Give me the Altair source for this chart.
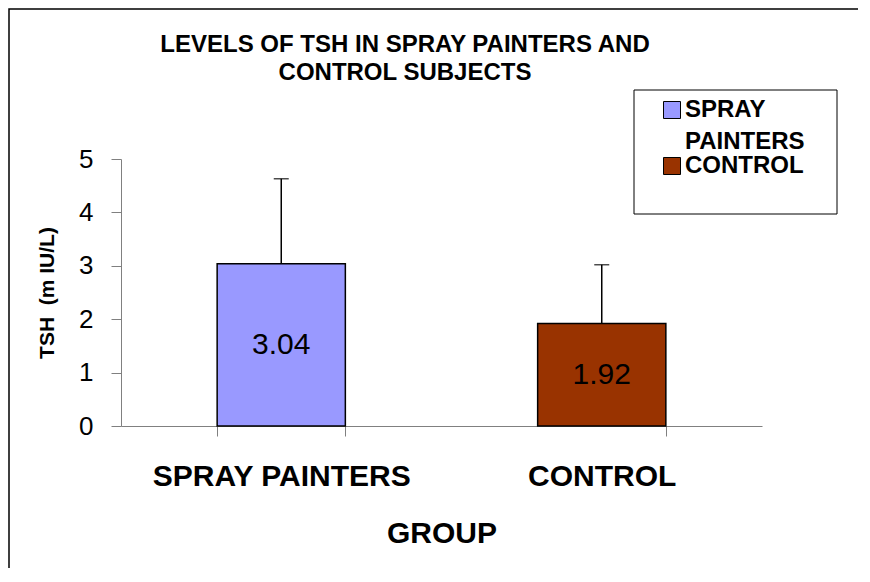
import altair as alt
import pandas as pd

groups = ["SPRAY PAINTERS", "CONTROL"]
means = [3.04, 1.92]
sds = [1.59, 1.10]
colors = ["#9999FF", "#993300"]
mean_labels = ["3.04", "1.92"]

title_lines = ["LEVELS OF TSH IN SPRAY PAINTERS AND", "CONTROL SUBJECTS"]
y_title = "TSH\u00a0 (m IU/L)"
x_title = "GROUP"
legend_lines = [["SPRAY", "PAINTERS"], ["CONTROL"]]

FONT = "Liberation Sans"

df = pd.DataFrame({"group": groups, "mean": means, "sd": sds, "label": mean_labels})
df["upper"] = df["mean"] + df["sd"]
df["mid"] = df["mean"] / 2

W, H = 641, 267

xenc = alt.X("group:N", sort=groups, title=x_title,
             scale=alt.Scale(paddingInner=0.6, paddingOuter=0.3),
             axis=alt.Axis(labelAngle=0, labelFont=FONT, labelFontSize=30, labelFontWeight="bold",
                           labelColor="black", labelPadding=25, labelLimit=600, tickBand="extent",
                           tickSize=10, tickColor="#808080", domainColor="#808080",
                           titleFont=FONT, titleFontSize=30, titleFontWeight="bold",
                           titleColor="black", titlePadding=27))

base = alt.Chart(df)

bars = base.mark_bar(stroke="black", strokeWidth=1.5).encode(
    x=xenc,
    y=alt.Y("mean:Q", scale=alt.Scale(domain=[0, 5], nice=False),
            axis=alt.Axis(values=[0, 1, 2, 3, 4, 5], grid=False, labelFont=FONT, labelFontSize=26,
                          labelColor="black", labelPadding=18, tickSize=10, tickColor="#808080",
                          domainColor="#808080", title=y_title, titleFont=FONT, titleFontSize=21,
                          titleFontWeight="bold", titleColor="black", titleX=-74, titleY=H / 2,
                          titleAlign="center", titleBaseline="middle")),
    color=alt.Color("group:N", scale=alt.Scale(domain=groups, range=colors), legend=None),
)

err = base.mark_rule(color="black", strokeWidth=1.5).encode(
    x=alt.X("group:N", sort=groups), y="mean:Q", y2="upper:Q")
caps = base.mark_tick(color="black", size=15, thickness=1.5).encode(
    x=alt.X("group:N", sort=groups), y="upper:Q")
labels = base.mark_text(font=FONT, fontSize=30, color="black", baseline="middle").encode(
    x=alt.X("group:N", sort=groups), y="mid:Q", text="label:N")

one = pd.DataFrame({"a": [0]})

# decorative frame around the whole chart
frame = alt.Chart(one).mark_rect(fill=None, stroke="black", strokeWidth=1.5).encode(
    x=alt.value(-112), x2=alt.value(760), y=alt.value(-150), y2=alt.value(450))

# chart title (two lines)
title_df = pd.DataFrame({"line": title_lines, "ty": [-107, -79]})
title_layers = [
    alt.Chart(title_df.iloc[[i]]).mark_text(font=FONT, fontSize=24, fontWeight="bold",
                                             align="center", baseline="alphabetic",
                                             color="black").encode(
        x=alt.value(284), y=alt.value(float(title_df["ty"][i])), text="line")
    for i in range(len(title_lines))
]

# legend box
leg_box = alt.Chart(one).mark_rect(fill="white", stroke="black", strokeWidth=1).encode(
    x=alt.value(513), x2=alt.value(716), y=alt.value(-69), y2=alt.value(55))

leg_df = pd.DataFrame({"group": groups, "sym_y": [-49, 7], "text_y": [-42, 14],
                       "text": legend_lines})
leg_layers = []
for i, g in enumerate(groups):
    d = leg_df.iloc[[i]]
    leg_layers.append(alt.Chart(d).mark_square(size=289, stroke="black", strokeWidth=1, opacity=1,
                                                  color=colors[i]).encode(
        x=alt.value(551), y=alt.value(float(leg_df["sym_y"][i]))))
    leg_layers.append(alt.Chart(d).mark_text(font=FONT, fontSize=24, fontWeight="bold",
                                             align="left", baseline="alphabetic",
                                             lineHeight=32, color="black").encode(
        x=alt.value(564), y=alt.value(float(leg_df["text_y"][i])), text="text"))

chart = alt.layer(frame, *title_layers, bars, err, caps, labels, leg_box, *leg_layers).properties(
    width=W, height=H,
    padding={"left": 113, "top": 151, "right": 96, "bottom": 142},
    autosize=alt.AutoSizeParams(type="none"),
).configure_view(strokeWidth=0, stroke="transparent")

chart.save("out.html", embed_options={"renderer": "svg", "actions": False})
